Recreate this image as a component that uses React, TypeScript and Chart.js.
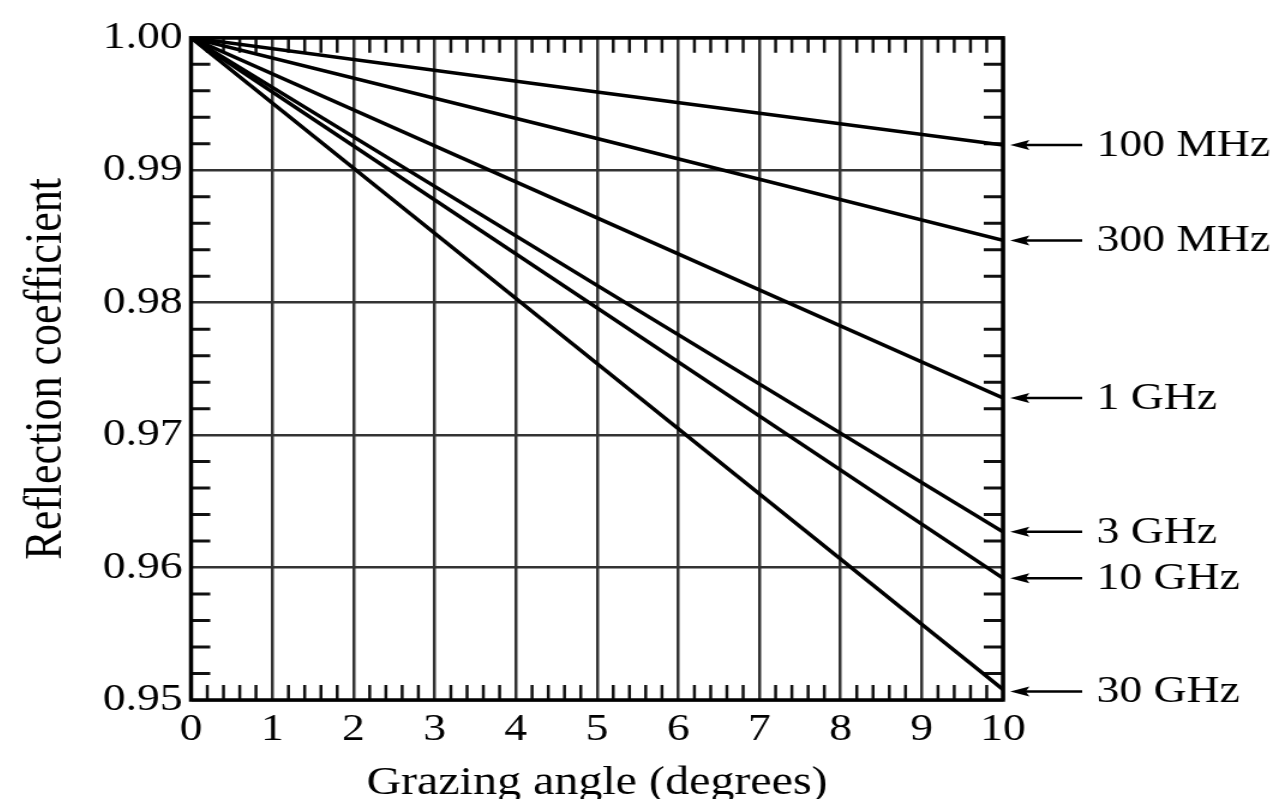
import React, { useEffect, useRef } from 'react';
import { Chart, registerables } from 'chart.js';

Chart.register(...registerables);

// ---- Data ----
const angles = [0, 5, 10];
const seriesLabels = ['100 MHz', '300 MHz', '1 GHz', '3 GHz', '10 GHz', '30 GHz'];
const r100MHz = [1.0, 0.9959, 0.9919];
const r300MHz = [1.0, 0.9924, 0.9847];
const r1GHz = [1.0, 0.9864, 0.9728];
const r3GHz = [1.0, 0.9813, 0.9627];
const r10GHz = [1.0, 0.9796, 0.9592];
const r30GHz = [1.0, 0.9754, 0.9508];
const seriesValues = [r100MHz, r300MHz, r1GHz, r3GHz, r10GHz, r30GHz];

const xMin = 0;
const xMax = 10;
const yMin = 0.95;
const yMax = 1.0;

// ---- Rendering geometry ----
const STRETCH = 1.2;
const CSS_W = 1265;
const CSS_H = 791;
const W = Math.round(CSS_W / STRETCH);
const H = CSS_H;
const FONT = "'Liberation Serif', 'Times New Roman', Times, serif";

const minorTicksPlugin = {
  id: 'minorTicks',
  beforeDatasetsDraw(chart: any) {
    const { ctx, chartArea: a, scales } = chart;
    const x = scales.x;
    const y = scales.y;
    ctx.save();
    ctx.strokeStyle = '#111';
    ctx.lineWidth = 2.5;
    ctx.beginPath();
    for (let i = 0; i < 10; i++) {
      for (let j = 1; j < 5; j++) {
        const px = x.getPixelForValue(i + j * 0.2);
        ctx.moveTo(px, a.top);
        ctx.lineTo(px, a.top + 15);
        ctx.moveTo(px, a.bottom);
        ctx.lineTo(px, a.bottom - 15);
      }
    }
    ctx.stroke();
    ctx.lineWidth = 3;
    ctx.beginPath();
    for (let i = 0; i < 5; i++) {
      for (let j = 1; j < 5; j++) {
        const py = y.getPixelForValue(yMin + i * 0.01 + j * 0.002);
        ctx.moveTo(a.left, py);
        ctx.lineTo(a.left + 16, py);
        ctx.moveTo(a.right, py);
        ctx.lineTo(a.right - 16, py);
      }
    }
    ctx.stroke();
    ctx.restore();
  },
  afterDraw(chart: any) {
    const { ctx, chartArea: a, scales } = chart;
    const y = scales.y;
    ctx.save();
    // frame
    ctx.strokeStyle = '#000';
    ctx.lineWidth = 3.5;
    ctx.strokeRect(a.left, a.top, a.right - a.left, a.bottom - a.top);
    // arrows + labels
    ctx.fillStyle = '#000';
    ctx.strokeStyle = '#000';
    ctx.font = `38px ${FONT}`;
    ctx.textAlign = 'left';
    ctx.textBaseline = 'middle';
    seriesValues.forEach((vals, i) => {
      const py = y.getPixelForValue(vals[vals.length - 1]) + (i === 5 ? 2 : 0);
      const tip = a.right + 6;
      const tail = a.right + 66;
      ctx.lineWidth = 2.5;
      ctx.beginPath();
      ctx.moveTo(tip + 10, py);
      ctx.lineTo(tail, py);
      ctx.stroke();
      ctx.beginPath();
      ctx.moveTo(tip, py);
      ctx.lineTo(tip + 16, py - 5);
      ctx.lineTo(tip + 13, py);
      ctx.lineTo(tip + 16, py + 5);
      ctx.closePath();
      ctx.fill();
      ctx.fillText(seriesLabels[i], a.right + 78, py + 1);
    });
    ctx.restore();
  },
};

export default function App() {
  const ref = useRef<HTMLCanvasElement | null>(null);

  useEffect(() => {
    const canvas = ref.current;
    if (!canvas) return;
    const chart = new Chart(canvas, {
      type: 'line',
      data: {
        datasets: seriesValues.map((vals, i) => ({
          label: seriesLabels[i],
          data: angles.map((a, k) => ({ x: a, y: vals[k] })),
          borderColor: '#000',
          borderWidth: 3.5,
          pointRadius: 0,
          tension: 0,
          fill: false,
        })),
      },
      options: {
        responsive: false,
        animation: false,
        devicePixelRatio: 1,
        layout: { padding: { left: 0, right: W - 829, top: 29, bottom: 0 } },
        plugins: {
          legend: { display: false },
          tooltip: { enabled: false },
        },
        scales: {
          x: {
            type: 'linear',
            min: xMin,
            max: xMax,
            afterFit: (s: any) => {
              s.height = H - 692;
            },
            ticks: {
              stepSize: 1,
              padding: 7,
              color: '#000',
              font: { family: FONT, size: 38 },
              maxRotation: 0,
            },
            grid: { color: '#333', lineWidth: 2.5, drawTicks: false },
            border: { display: false },
            title: {
              display: true,
              text: 'Grazing angle (degrees)',
              color: '#000',
              font: { family: FONT, size: 40 },
              padding: { top: 0, bottom: -8 },
            },
          },
          y: {
            type: 'linear',
            min: yMin,
            max: yMax,
            afterFit: (s: any) => {
              s.width = 152.5;
            },
            ticks: {
              stepSize: 0.01,
              padding: 7,
              color: '#000',
              font: { family: FONT, size: 38 },
              callback: (v: any) => Number(v).toFixed(2),
            },
            grid: { color: '#333', lineWidth: 2.5, drawTicks: false },
            border: { display: false },
            title: {
              display: true,
              text: 'Reflection coefficient',
              color: '#000',
              font: { family: FONT, size: 44 },
              padding: { top: 6, bottom: 0 },
            },
          },
        },
      },
      plugins: [minorTicksPlugin],
    });
    return () => chart.destroy();
  }, []);

  return (
    <canvas
      ref={ref}
      width={W}
      height={H}
      style={{ display: 'block', width: `${CSS_W}px`, height: `${CSS_H}px` }}
    />
  );
}
